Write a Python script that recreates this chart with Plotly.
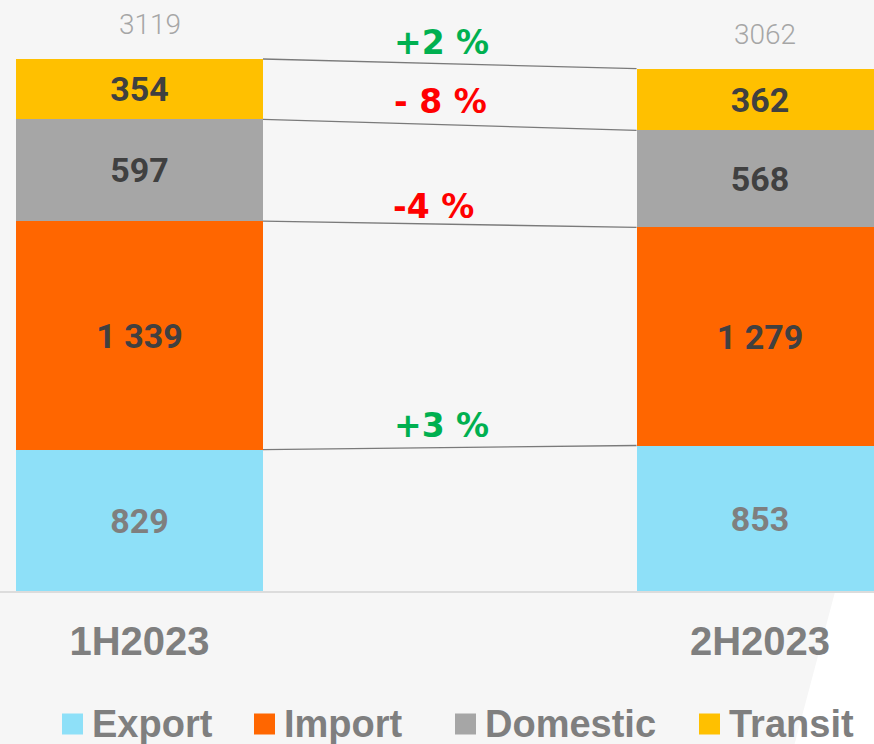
import plotly.graph_objects as go

# ---- data ----
categories = ["1H2023", "2H2023"]
series_names = ["Export", "Import", "Domestic", "Transit"]
export_vals = [829, 853]
import_vals = [1339, 1279]
domestic_vals = [597, 568]
transit_vals = [354, 362]
change_labels = ["+3 %", "-4 %", "- 8 %", "+2 %"]   # per series, Export..Transit
change_colors = ["#00b050", "#ff0000", "#ff0000", "#00b050"]

series_values = [export_vals, import_vals, domestic_vals, transit_vals]
colors = ["#8ee0f8", "#ff6600", "#a6a6a6", "#ffc000"]
text_colors = ["#7f7f7f", "#404040", "#404040", "#404040"]

W, H = 874, 744
PLOT_H = 591
BAR_W = 0.398
BG = "#f6f6f6"


def fmt(v):
    return f"{v:,}".replace(",", " ")


fig = go.Figure()
for name, vals, col, tcol in zip(series_names, series_values, colors, text_colors):
    fig.add_trace(go.Bar(
        x=categories, y=vals, name=name, width=BAR_W,
        marker=dict(color=col, line=dict(width=0)),
        text=[fmt(v) for v in vals], textposition="inside",
        insidetextanchor="middle", textangle=0,
        textfont=dict(family="Roboto", size=34, color=tcol, weight="bold"),
        hoverinfo="skip", showlegend=False,
    ))

totals = [sum(s[i] for s in series_values) for i in range(len(categories))]

shapes = []
annotations = []

# connecting lines + change labels
change_yshift = [22, 18, 23, 21]
change_xshift = [-8, -16, -9, -8]
cum = [0, 0]
for k, vals in enumerate(series_values):
    cum = [cum[i] + vals[i] for i in range(2)]
    shapes.append(dict(type="line", xref="x", yref="y",
                       x0=0 + BAR_W / 2, x1=1 - BAR_W / 2, y0=cum[0], y1=cum[1],
                       line=dict(color="#7a7a7a", width=1.3), layer="above"))
    annotations.append(dict(x=0.5, y=(cum[0] + cum[1]) / 2, xref="x", yref="y",
                            text=change_labels[k], showarrow=False,
                            xanchor="center", yanchor="middle", xshift=change_xshift[k],
                            yshift=change_yshift[k],
                            font=dict(family="DejaVu Sans", size=33,
                                      color=change_colors[k], weight="bold")))

# totals above bars
total_xshift = [11, 5]
for c, t, xs in zip(categories, totals, total_xshift):
    annotations.append(dict(x=c, y=t, xref="x", yref="y", text=str(t),
                            showarrow=False, xanchor="center", yanchor="middle",
                            xshift=xs, yshift=34,
                            font=dict(family="Roboto", size=28, color="#a6a6a6", weight=300)))


def px(x):
    return x / W


def py(y):
    return (PLOT_H - y) / PLOT_H


# white diagonal corner below the axis
shapes.append(dict(type="path", xref="paper", yref="paper",
                   path=f"M {px(835)},{py(592)} L {px(880)},{py(592)} L {px(880)},{py(750)} L {px(793)},{py(750)} Z",
                   fillcolor="white", line=dict(width=0), layer="below"))

# manual legend
legend_x = [62, 254, 455, 699]
LEG_Y = 724
SQ = 21
for name, col, lx in zip(series_names, colors, legend_x):
    shapes.append(dict(type="rect", xref="paper", yref="paper",
                       x0=px(lx), x1=px(lx + SQ), y0=py(LEG_Y + SQ / 2), y1=py(LEG_Y - SQ / 2),
                       fillcolor=col, line=dict(width=0)))
    annotations.append(dict(x=px(lx + SQ + 7), y=py(LEG_Y), xref="paper", yref="paper",
                            text=name, showarrow=False, xanchor="left", yanchor="middle",
                            font=dict(family="Liberation Sans", size=38, color="#7f7f7f",
                                      weight="bold")))

fig.update_layout(
    width=W, height=H,
    margin=dict(l=0, r=0, t=0, b=H - PLOT_H),
    barmode="stack",
    bargap=0,
    paper_bgcolor=BG, plot_bgcolor=BG,
    showlegend=False,
    shapes=shapes, annotations=annotations,
    xaxis=dict(type="category", range=[-0.2248, 1.1837], showgrid=False,
               zeroline=False, showline=True, linecolor="#dcdcdc", linewidth=2,
               ticks="outside", ticklen=14, tickcolor="rgba(0,0,0,0)",
               tickfont=dict(family="Liberation Sans", size=40, color="#7f7f7f", weight="bold"),
               fixedrange=True),
    yaxis=dict(range=[0, PLOT_H / 0.17057], visible=False, showgrid=False,
               zeroline=False, fixedrange=True),
)

fig.write_html("out.html", config=dict(displayModeBar=False),
               post_script="document.body.style.margin='0';document.body.style.overflow='hidden';")
